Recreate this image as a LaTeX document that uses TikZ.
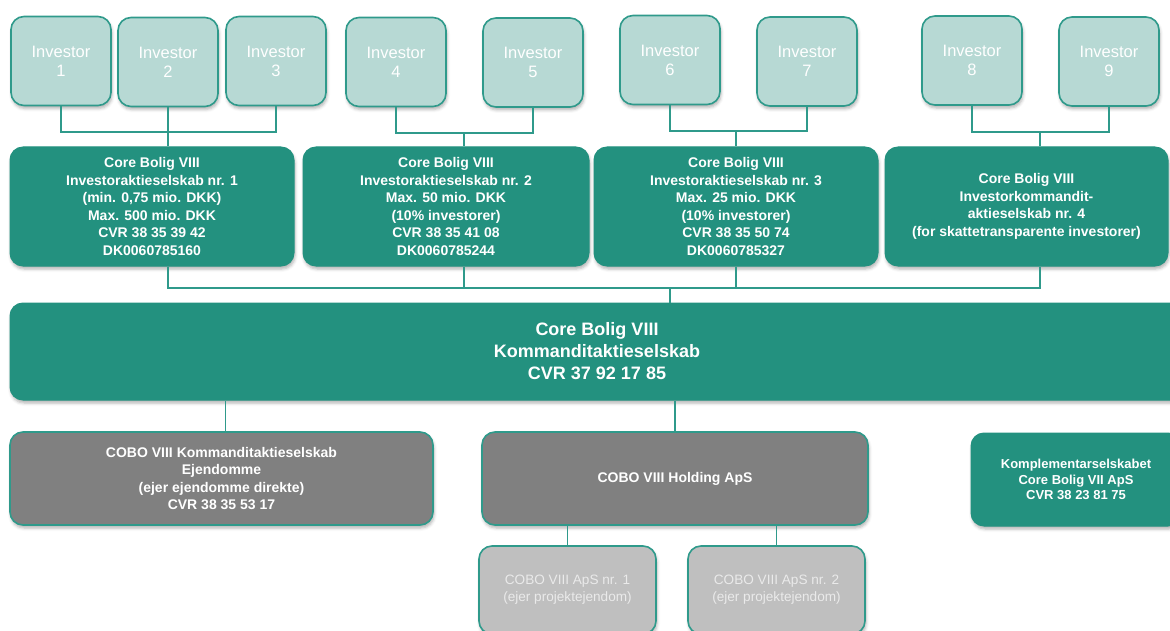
\documentclass[tikz,border=0pt]{standalone}
\usepackage{fontspec}
\setmainfont{Liberation Sans}
\usetikzlibrary{positioning,shadows.blur}
\definecolor{cteal}{HTML}{23917F}
\definecolor{cpale}{HTML}{B7D9D4}
\definecolor{cline}{HTML}{2F9A8B}
\definecolor{cgrey}{HTML}{808080}
\definecolor{clight}{HTML}{BFBFBF}
\definecolor{cfaint}{HTML}{EAEAEA}
\tikzset{
  box/.style={rounded corners=13pt, inner sep=0pt, align=center, text=white,
    blur shadow={shadow xshift=1pt, shadow yshift=-3pt, shadow blur radius=3pt, shadow opacity=30}},
  invbox/.style={box, fill=cpale, draw=cline, line width=1.6pt, minimum width=100pt, minimum height=89pt,
    font=\fontsize{16.5}{19}\selectfont},
  tealbox/.style={box, fill=cteal, draw=cteal, line width=1pt, font=\fontsize{14}{17.6}\selectfont\bfseries},
  greybox/.style={box, fill=cgrey, draw=cline, line width=1.6pt, font=\fontsize{14}{17.6}\selectfont\bfseries},
  subbox/.style={box, fill=clight, draw=cline, line width=1.6pt, text=cfaint, minimum width=177pt, minimum height=88pt,
    font=\fontsize{13.6}{16.8}\selectfont},
  link/.style={draw=cline, line width=1.7pt},
}
\begin{document}
\begin{tikzpicture}[x=1pt,y=-1pt]
  \clip (0,0) rectangle (1170,631);
  \foreach \n/\xx/\yy in {1/61/61, 2/168/62, 3/276/61, 4/396/62, 5/533/62.5, 6/670/60, 7/807/61.5, 8/972/60.5, 9/1109/61.5}
    \node[invbox] (inv\n) at (\xx,\yy) {Investor\\\n};
  \node[tealbox, minimum width=284pt, minimum height=119pt] (ias1) at (152,206.5)
    {Core Bolig VIII\\Investoraktieselskab nr. 1\\(min. 0,75 mio. DKK)\\Max. 500 mio. DKK\\CVR 38 35 39 42\\DK0060785160};
  \node[tealbox, minimum width=286pt, minimum height=119pt] (ias2) at (446,206.5)
    {Core Bolig VIII\\Investoraktieselskab nr. 2\\Max. 50 mio. DKK\\(10\% investorer)\\CVR 38 35 41 08\\DK0060785244};
  \node[tealbox, minimum width=284pt, minimum height=119pt] (ias3) at (736,206.5)
    {Core Bolig VIII\\Investoraktieselskab nr. 3\\Max. 25 mio. DKK\\(10\% investorer)\\CVR 38 35 50 74\\DK0060785327};
  \node[tealbox, minimum width=283pt, minimum height=119pt] (ias4) at (1026.5,206.5)
    {Core Bolig VIII\\Investorkommandit-\\aktieselskab nr. 4\\(for skattetransparente investorer)};
  \node[tealbox, minimum width=1174pt, minimum height=97pt, font=\fontsize{18}{22}\selectfont\bfseries] (kas) at (597,351.5)
    {Core Bolig VIII\\Kommanditaktieselskab\\CVR 37 92 17 85};
  \node[greybox, minimum width=423pt, minimum height=93pt] (cobo) at (221.5,478.5)
    {COBO VIII Kommanditaktieselskab\\Ejendomme\\(ejer ejendomme direkte)\\CVR 38 35 53 17};
  \node[greybox, minimum width=386pt, minimum height=93pt] (hold) at (675,478.5) {COBO VIII Holding ApS};
  \node[tealbox, minimum width=210pt, minimum height=93pt, font=\fontsize{13}{15.5}\selectfont\bfseries] (komp) at (1076,479.5)
    {Komplementarselskabet\\Core Bolig VII ApS\\CVR 38 23 81 75};
  \node[subbox] (aps1) at (567.5,590) {COBO VIII ApS nr. 1\\(ejer projektejendom)};
  \node[subbox] (aps2) at (776.5,590) {COBO VIII ApS nr. 2\\(ejer projektejendom)};
  \coordinate (j1) at (168,132);
  \coordinate (j2) at (464,133);
  \coordinate (j3) at (736,131);
  \coordinate (j4) at (1040,132);
  \coordinate (k) at (670,288);
  \draw[link] (inv1.south) |- (j1) -| (inv3.south);
  \draw[link] (inv2.south) -- (inv2.south |- ias1.north);
  \draw[link] (inv4.south) |- (j2) -| (inv5.south);
  \draw[link] (j2) -- (j2 |- ias2.north);
  \draw[link] (inv6.south) |- (j3) -| (inv7.south);
  \draw[link] (j3) -- (j3 |- ias3.north);
  \draw[link] (inv8.south) |- (j4) -| (inv9.south);
  \draw[link] (j4) -- (j4 |- ias4.north);
  \draw[link] (ias1.south -| j1) |- (k) -| (ias4.south -| j4);
  \draw[link] (ias2.south -| j2) -- (j2 |- k);
  \draw[link] (ias3.south -| j3) -- (j3 |- k);
  \draw[link] (k) -- (k |- kas.north);
  \draw[link] ([xshift=4pt]cobo.north) -- ([xshift=4pt]cobo.north |- kas.south);
  \draw[link] (hold.north) -- (hold.north |- kas.south);
  \draw[link] (aps1.north) -- (aps1.north |- hold.south);
  \draw[link] (aps2.north) -- (aps2.north |- hold.south);
\end{tikzpicture}
\end{document}
